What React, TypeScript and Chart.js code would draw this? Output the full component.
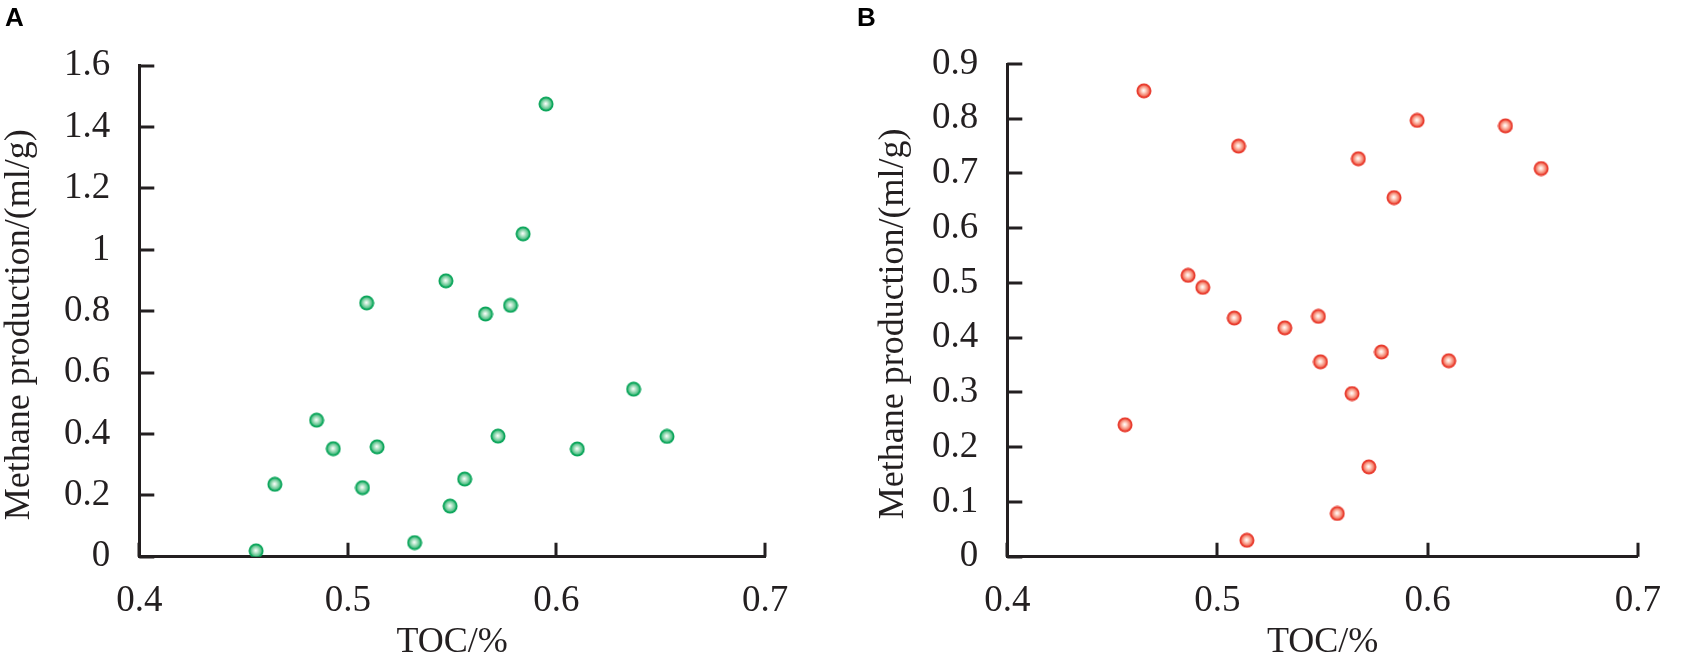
import { useEffect, useRef } from 'react';
import { Chart, registerables } from 'chart.js';

Chart.register(...registerables);

// TOC (%) vs methane production (ml/g)
const tocA = [0.456, 0.465, 0.485, 0.493, 0.507, 0.509, 0.514, 0.532, 0.547, 0.549, 0.556, 0.566, 0.572, 0.578, 0.584, 0.595, 0.610, 0.637, 0.653];
const methaneA = [0.019, 0.236, 0.445, 0.352, 0.225, 0.827, 0.358, 0.046, 0.899, 0.165, 0.253, 0.791, 0.393, 0.819, 1.052, 1.475, 0.351, 0.546, 0.392];

const tocB = [0.456, 0.465, 0.486, 0.493, 0.508, 0.510, 0.514, 0.532, 0.548, 0.549, 0.557, 0.564, 0.567, 0.572, 0.578, 0.584, 0.595, 0.610, 0.637, 0.654];
const methaneB = [0.241, 0.851, 0.514, 0.492, 0.436, 0.750, 0.030, 0.418, 0.439, 0.356, 0.079, 0.298, 0.727, 0.164, 0.374, 0.656, 0.797, 0.358, 0.787, 0.709];

const xTicks = [0.4, 0.5, 0.6, 0.7];
const yTicksA = [0, 0.2, 0.4, 0.6, 0.8, 1, 1.2, 1.4, 1.6];
const yTicksB = [0, 0.1, 0.2, 0.3, 0.4, 0.5, 0.6, 0.7, 0.8, 0.9];

const INK = '#231f20';
const SERIF = '"Liberation Serif", "Times New Roman", serif';

// shaded ball used as the point style
function makeBall(ring: string, light: string, body: string) {
  const c = document.createElement('canvas');
  c.width = 16;
  c.height = 16;
  const g = c.getContext('2d')!;
  g.beginPath();
  g.arc(8, 8, 7.5, 0, Math.PI * 2);
  g.fillStyle = ring;
  g.fill();
  const grad = g.createRadialGradient(7.6, 7.6, 0, 8, 8, 6);
  grad.addColorStop(0, '#ffffff');
  grad.addColorStop(0.3, light);
  grad.addColorStop(1, body);
  g.beginPath();
  g.arc(8, 8, 5.8, 0, Math.PI * 2);
  g.fillStyle = grad;
  g.fill();
  return c;
}

// ticks drawn inside the plot, like the original
const inwardTicks = {
  id: 'inwardTicks',
  beforeDatasetsDraw(chart: any) {
    const { ctx, chartArea, scales } = chart;
    ctx.save();
    ctx.strokeStyle = INK;
    ctx.lineWidth = 3;
    ctx.beginPath();
    scales.x.ticks.forEach((t: any) => {
      const px = Math.round(scales.x.getPixelForValue(t.value));
      ctx.moveTo(px, chartArea.bottom);
      ctx.lineTo(px, chartArea.bottom - 14);
    });
    scales.y.ticks.forEach((t: any) => {
      const py = Math.round(scales.y.getPixelForValue(t.value));
      ctx.moveTo(chartArea.left, py);
      ctx.lineTo(chartArea.left + 15, py);
    });
    ctx.stroke();
    ctx.restore();
  },
};

const panelLetter = {
  id: 'panelLetter',
  afterDraw(chart: any, _args: any, opts: any) {
    const ctx = chart.ctx;
    ctx.save();
    ctx.fillStyle = '#000';
    ctx.font = 'bold 26px "Liberation Sans", Arial, sans-serif';
    ctx.textBaseline = 'alphabetic';
    ctx.fillText(opts.text, opts.x, 25.5);
    ctx.restore();
  },
};

type PanelProps = {
  letter: string;
  letterX: number;
  toc: number[];
  methane: number[];
  yTicks: number[];
  ball: HTMLCanvasElement;
  left: number;
  width: number;
  yWidth: number;
  yTitlePad: number;
  padTop: number;
  padRight: number;
};

function Panel(p: PanelProps) {
  const canvas = useRef<HTMLCanvasElement | null>(null);

  useEffect(() => {
    if (!canvas.current) return;

    const chart = new Chart(canvas.current, {
      type: 'scatter',
      data: {
        datasets: [
          {
            data: p.toc.map((x, i) => ({ x, y: p.methane[i] })),
            pointStyle: p.ball,
            pointRadius: 7,
          },
        ],
      },
      plugins: [inwardTicks, panelLetter],
      options: {
        responsive: false,
        animation: false,
        events: [],
        layout: {
          padding: { left: 0, top: p.padTop, right: p.padRight, bottom: 0 },
        },
        plugins: {
          legend: { display: false },
          tooltip: { enabled: false },
          // @ts-ignore
          panelLetter: { text: p.letter, x: p.letterX },
        },
        scales: {
          x: {
            type: 'linear',
            min: xTicks[0],
            max: xTicks[xTicks.length - 1],
            afterBuildTicks: (s: any) => {
              s.ticks = xTicks.map((v) => ({ value: v }));
            },
            afterFit: (s: any) => {
              s.height = 111.3;
            },
            grid: { display: false, drawTicks: false },
            border: { display: true, color: INK, width: 3 },
            ticks: {
              color: INK,
              padding: 22,
              maxRotation: 0,
              font: { family: SERIF, size: 37, lineHeight: 1.2 },
              callback: (v: any) => String(v),
            },
            title: {
              display: true,
              text: 'TOC/%',
              color: INK,
              font: { family: SERIF, size: 36, lineHeight: 1 },
              padding: { top: 0, bottom: 7 },
            },
          },
          y: {
            type: 'linear',
            min: p.yTicks[0],
            max: p.yTicks[p.yTicks.length - 1],
            afterBuildTicks: (s: any) => {
              s.ticks = p.yTicks.map((v) => ({ value: v }));
            },
            afterFit: (s: any) => {
              s.width = p.yWidth;
            },
            grid: { display: false, drawTicks: false },
            border: { display: true, color: INK, width: 3 },
            ticks: {
              color: INK,
              padding: 29,
              font: { family: SERIF, size: 37, lineHeight: 1.2 },
              callback: (v: any) => String(v),
            },
            title: {
              display: true,
              // trailing spaces nudge the centred title a little lower, as in the original
              text: 'Methane production/(ml/g)   ',
              color: INK,
              font: { family: SERIF, size: 36, lineHeight: 1.1 },
              padding: { top: p.yTitlePad, bottom: 0 },
            },
          },
        },
      },
    });

    return () => chart.destroy();
  }, [canvas]);

  return (
    <canvas
      ref={canvas}
      width={p.width}
      height={668}
      style={{ position: 'absolute', left: p.left, top: 0 }}
    ></canvas>
  );
}

export default function App() {
  const green = makeBall('#0aa55a', '#c8ecd6', '#3cb878');
  const red = makeBall('#e8392c', '#ffd9cc', '#f0604a');

  return (
    <div style={{ position: 'absolute', left: 0, top: 0, width: 1683, height: 668, background: '#fff' }}>
      <Panel
        letter="A"
        letterX={5}
        toc={tocA}
        methane={methaneA}
        yTicks={yTicksA}
        ball={green}
        left={0}
        width={841}
        yWidth={139.3}
        yTitlePad={0}
        padTop={65.7}
        padRight={76}
      />
      <Panel
        letter="B"
        letterX={16}
        toc={tocB}
        methane={methaneB}
        yTicks={yTicksB}
        ball={red}
        left={841}
        width={842}
        yWidth={166.3}
        yTitlePad={33}
        padTop={64}
        padRight={29.7}
      />
    </div>
  );
}
